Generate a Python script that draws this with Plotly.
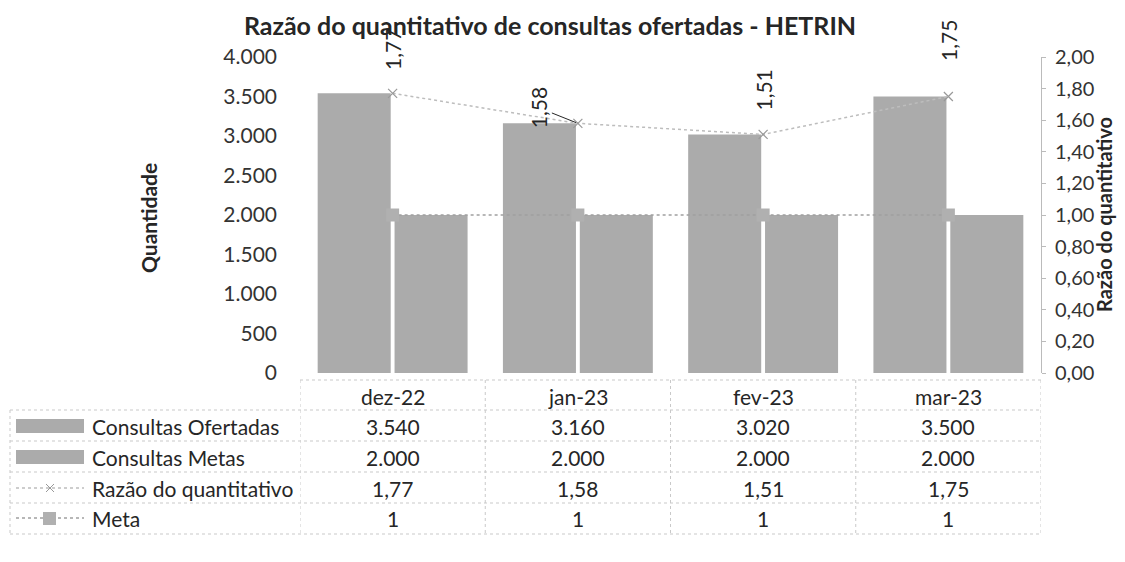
import plotly.graph_objects as go

# dados
meses = ["dez-22", "jan-23", "fev-23", "mar-23"]
consultas_ofertadas = [3540, 3160, 3020, 3500]
consultas_metas = [2000, 2000, 2000, 2000]
razao = [1.77, 1.58, 1.51, 1.75]
meta = [1, 1, 1, 1]

tabela_ofertadas = ["3.540", "3.160", "3.020", "3.500"]
tabela_metas = ["2.000", "2.000", "2.000", "2.000"]
tabela_razao = ["1,77", "1,58", "1,51", "1,75"]
tabela_meta = ["1", "1", "1", "1"]

# the page puts the figure 8px in from the corner
O = 8
W, H = 1125 - 2 * O, 562 - 2 * O
# plot area, in coordinates of the reference picture
L, R, T, B = 300, 1041, 57, 373

def px(x):
    return (x - L) / (R - L)

def py(y):
    return (B - y) / (B - T)

FONT = "Lato, Calibri, sans-serif"
TXT = "#262626"
GREY = "#ababab"
LINE = "#c9c9c9"

fig = go.Figure()
fig.add_trace(go.Bar(x=meses, y=consultas_ofertadas, name="Consultas Ofertadas",
                     marker=dict(color=GREY, line=dict(width=0))))
fig.add_trace(go.Bar(x=meses, y=consultas_metas, name="Consultas Metas",
                     marker=dict(color=GREY, line=dict(width=0))))
fig.add_trace(go.Scatter(x=meses, y=razao, yaxis="y2", mode="lines+markers",
                         name="Razão do quantitativo",
                         line=dict(color="#bdbdbd", width=1.5, dash="dot"),
                         marker=dict(symbol="x-thin", size=9, line=dict(color="#999", width=1.2))))
fig.add_trace(go.Scatter(x=meses, y=meta, yaxis="y2", mode="lines+markers", name="Meta",
                         line=dict(color="#a0a0a0", width=1.5, dash="dot"),
                         marker=dict(symbol="square", size=13, color="#b0b0b0")))

# rotulos da razao
offs = [(0, -44), (-40, -16), (0, -44), (0, -56)]
for m, v, t, (ax, ay) in zip(meses, razao, tabela_razao, offs):
    fig.add_annotation(x=m, y=v, yref="y2", text=t, textangle=-90, showarrow=True,
                       ax=ax, ay=ay, arrowhead=0, arrowwidth=1,
                       arrowcolor=TXT if ax else "rgba(0,0,0,0)",
                       standoff=2, font=dict(size=21, color=TXT, family=FONT))

# tabela de dados
rows_y = [426, 457, 488, 518]
for vals, ry in zip([tabela_ofertadas, tabela_metas, tabela_razao, tabela_meta], rows_y):
    for m, v in zip(meses, vals):
        fig.add_annotation(x=m, y=py(ry), yref="paper", yanchor="middle", text=v,
                           showarrow=False, font=dict(size=21, color=TXT, family=FONT))
for m in meses:
    fig.add_annotation(x=m, y=py(396), yref="paper", yanchor="middle", text=m,
                       showarrow=False, font=dict(size=21, color=TXT, family=FONT))

nomes = ["Consultas Ofertadas", "Consultas Metas", "Razão do quantitativo", "Meta"]
for n, ry in zip(nomes, rows_y):
    fig.add_annotation(x=px(90), xref="paper", y=py(ry), yref="paper", text=n,
                       showarrow=False, xanchor="left", yanchor="middle",
                       font=dict(size=21, color=TXT, family=FONT))

# titulos dos eixos
fig.add_annotation(x=px(148), xref="paper", y=py(218), yref="paper", text="<b>Quantidade</b>",
                   textangle=-90, showarrow=False, xanchor="center", yanchor="middle",
                   font=dict(size=21, color=TXT, family=FONT))
fig.add_annotation(x=px(1104), xref="paper", y=py(215), yref="paper",
                   text="<b>Razão do quantitativo</b>", textangle=-90, showarrow=False,
                   xanchor="center", yanchor="middle",
                   font=dict(size=20, color=TXT, family=FONT))

shapes = []
dot = dict(color=LINE, width=1, dash="dot")
shapes.append(dict(type="line", xref="paper", yref="paper", x0=0, x1=1, y0=py(380), y1=py(380), line=dot))
for hy in [410, 441, 472, 503, 534]:
    shapes.append(dict(type="line", xref="paper", yref="paper", x0=px(10), x1=1,
                       y0=py(hy), y1=py(hy), line=dot))
shapes.append(dict(type="line", xref="paper", yref="paper", x0=px(10), x1=px(10),
                   y0=py(410), y1=py(534), line=dot))
for i in range(len(meses) + 1):
    shapes.append(dict(type="line", xref="x", yref="paper", x0=i - 0.5, x1=i - 0.5,
                       y0=py(380), y1=py(534), line=dot))
# simbolos da legenda na tabela
for ry in rows_y[:2]:
    shapes.append(dict(type="rect", xref="paper", yref="paper", x0=px(16), x1=px(84),
                       y0=py(ry + 7), y1=py(ry - 7), fillcolor=GREY, line=dict(width=0)))
ry = rows_y[2]
shapes.append(dict(type="line", xref="paper", yref="paper", x0=px(16), x1=px(84),
                   y0=py(ry), y1=py(ry), line=dict(color="#bdbdbd", width=1.5, dash="dot")))
for d in (-4, 4):
    shapes.append(dict(type="line", xref="paper", yref="paper", x0=px(46), x1=px(54),
                       y0=py(ry - d), y1=py(ry + d), line=dict(color="#999", width=1)))
ry = rows_y[3]
shapes.append(dict(type="line", xref="paper", yref="paper", x0=px(16), x1=px(84),
                   y0=py(ry), y1=py(ry), line=dict(color="#a0a0a0", width=1.5, dash="dot")))
shapes.append(dict(type="rect", xref="paper", yref="paper", x0=px(43), x1=px(56),
                   y0=py(ry + 7), y1=py(ry - 6), fillcolor="#b0b0b0", line=dict(width=0)))

fig.update_layout(
    width=W, height=H,
    margin=dict(l=L - O, r=W - (R - O), t=T - O, b=H - (B - O), autoexpand=False),
    paper_bgcolor="white", plot_bgcolor="white",
    separators=",.",
    showlegend=False,
    barmode="group", bargap=0.17, bargroupgap=0.05,
    font=dict(family=FONT, color=TXT, size=21),
    title=dict(text="<b>Razão do quantitativo de consultas ofertadas - HETRIN</b>",
               x=(550 - O) / W, xref="container", xanchor="center",
               y=1 - (26 - O) / H, yref="container", yanchor="middle",
               font=dict(size=25, color=TXT, family=FONT)),
    xaxis=dict(showticklabels=False, ticks="", showline=False, showgrid=False,
               range=[-0.5, len(meses) - 0.5]),
    yaxis=dict(range=[0, 4000], dtick=500, tickformat=",d", showgrid=False, zeroline=False,
               showline=False, ticks="", ticklabelstandoff=22,
               tickfont=dict(size=21, color="#333")),
    yaxis2=dict(range=[0, 2], dtick=0.2, tickformat=".2f", overlaying="y", side="right",
                showgrid=False, zeroline=False, showline=True, linecolor="#bbbbbb", linewidth=1,
                ticks="outside", ticklen=4, tickcolor="#bbbbbb", ticklabelstandoff=5,
                tickfont=dict(size=20, color="#333")),
    shapes=shapes,
)

fig.write_html("out.html")
